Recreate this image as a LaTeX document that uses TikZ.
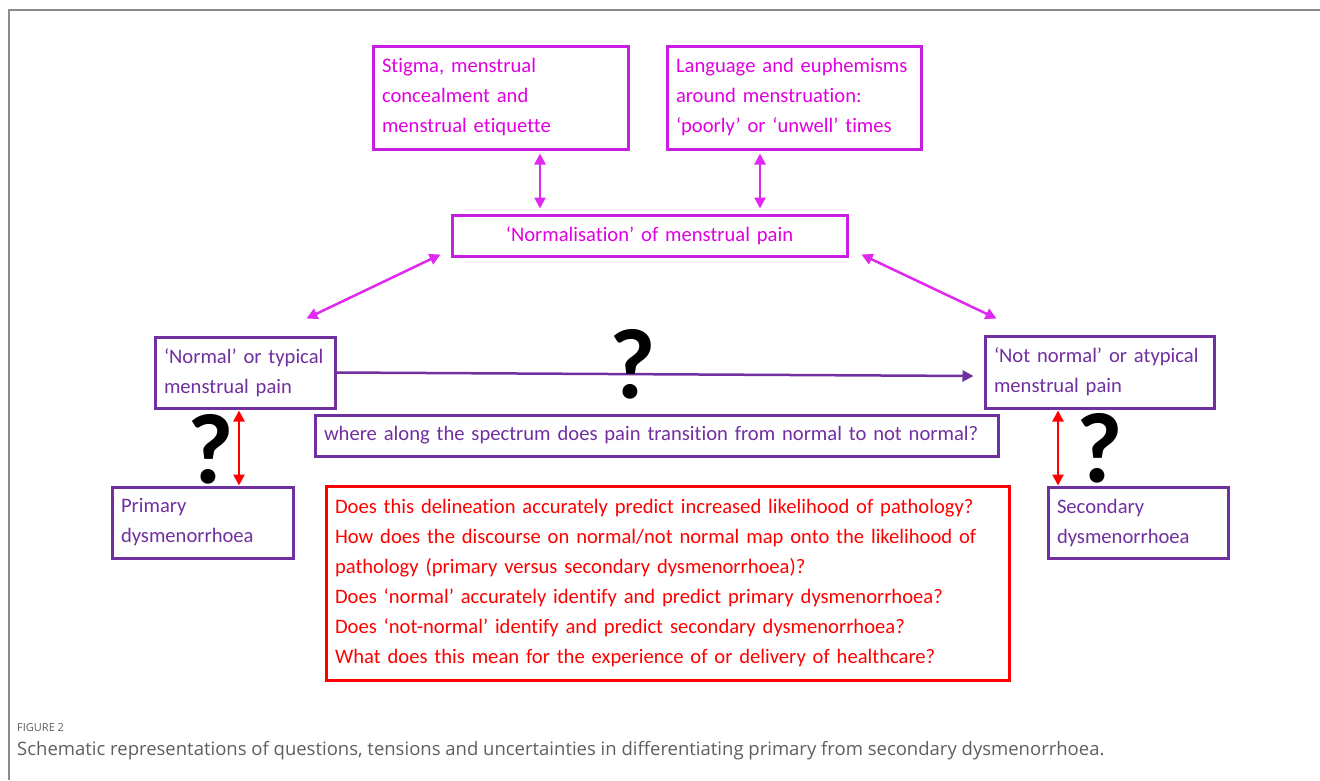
\documentclass[tikz,border=0pt]{standalone}
\usepackage{fontspec}
\setmainfont[Ligatures=NoCommon, WordSpace=0.75]{Carlito}
\newfontfamily\capfont{Open Sans}
\newfontfamily\qfont{Carlito}
\usetikzlibrary{arrows.meta,calc}
\definecolor{magB}{RGB}{200,30,225}
\definecolor{magT}{RGB}{225,0,225}
\definecolor{magA}{RGB}{225,40,240}
\definecolor{purp}{RGB}{112,48,160}
\definecolor{redc}{RGB}{255,0,0}
\definecolor{capgray}{RGB}{95,95,95}
\definecolor{framegray}{RGB}{140,140,140}
\tikzset{
  boxbase/.style={draw, line width=3pt, inner xsep=9pt, inner ysep=0pt, align=left,
    font=\fontsize{20.6}{30}\selectfont},
  magbox/.style={boxbase, draw=magB, text=magT},
  purbox/.style={boxbase, draw=purp, text=purp},
  redbox/.style={boxbase, draw=redc, text=redc},
  arrM/.style={draw=magA, line width=2.5pt, {Triangle[length=11pt,width=11pt]}-{Triangle[length=11pt,width=11pt]}},
  arrR/.style={draw=redc, line width=2.5pt, {Triangle[length=11pt,width=11pt]}-{Triangle[length=11pt,width=11pt]}},
  arrP/.style={draw=purp, line width=2.5pt, -{Triangle[length=11pt,width=11pt]}},
  qmark/.style={text=black, font=\qfont\bfseries\fontsize{100}{100}\selectfont, inner sep=0pt},
}
\begin{document}
\begin{tikzpicture}[x=1pt,y=-1pt]
\useasboundingbox (0,0) rectangle (1320,780);
\fill[white] (0,0) rectangle (1320,780);
% frame
\draw[framegray, line width=1.5pt] (9,780) -- (9,10) -- (1320,10);

% top boxes
\node[magbox, text width=237pt, minimum height=103pt] (stig) at (500.5,97.5)
  {\mbox{Stigma, menstrual}\\\mbox{concealment and}\\\mbox{menstrual etiquette}};
\node[magbox, text width=236pt, minimum height=103pt] (lang) at (794,97.5)
  {\mbox{Language and euphemisms}\\\mbox{around menstruation:}\\\mbox{‘poorly’ or ‘unwell’ times}};
\node[magbox, align=center, text width=377pt, minimum height=41pt] (norm) at (649.5,235.5)
  {‘Normalisation’ of menstrual pain};

% middle boxes
\node[purbox, text width=162pt, minimum height=71pt] (nrm) at (245,372.5)
  {\mbox{‘Normal’ or typical}\\\mbox{menstrual pain}};
\node[purbox, text width=211pt, minimum height=72pt] (notn) at (1099.5,372)
  {\mbox{‘Not normal’ or atypical}\\\mbox{menstrual pain}};
\node[purbox, text width=665pt, minimum height=41pt] (where) at (656.5,435.5)
  {\mbox{where along the spectrum does pain transition from normal to not normal?}};

% bottom boxes
\node[purbox, text width=163pt, minimum height=71pt] (prim) at (202.5,522.5)
  {Primary\\dysmenorrhoea};
\node[purbox, text width=162pt, minimum height=71pt] (sec) at (1138,522.5)
  {Secondary\\dysmenorrhoea};
\node[redbox, text width=665pt, minimum height=194pt] (ques) at (667.5,583)
  {\mbox{Does this delineation accurately predict increased likelihood of pathology?}\\
   \mbox{How does the discourse on normal/not normal map onto the likelihood of}\\
   \mbox{pathology (primary versus secondary dysmenorrhoea)?}\\
   \mbox{Does ‘normal’ accurately identify and predict primary dysmenorrhoea?}\\
   \mbox{Does ‘not-normal’ identify and predict secondary dysmenorrhoea?}\\
   \mbox{What does this mean for the experience of or delivery of healthcare?}};

% magenta arrows
\coordinate (xa) at (540,0);
\coordinate (xb) at (760,0);
\draw[arrM] ($(xa |- stig.south)+(0,3)$) -- ($(xa |- norm.north)+(0,-5)$);
\draw[arrM] ($(xb |- lang.south)+(0,3)$) -- ($(xb |- norm.north)+(0,-5)$);
\draw[arrM] ($(norm.south west)+(-10,-3)$) -- ($(nrm.north east)+(-30,-17)$);
\draw[arrM] ($(norm.south east)+(13,-3)$) -- ($(notn.north west)+(13,-16)$);

% purple spectrum arrow
\draw[arrP] (nrm.east) -- ($(notn.west)+(-10,4)$);

% red arrows
\coordinate (xc) at (239,0);
\coordinate (xd) at (1058,0);
\draw[arrR] ($(xc |- nrm.south)+(0,1)$) -- (xc |- prim.north);
\draw[arrR] ($(xd |- notn.south)+(0,1)$) -- (xd |- sec.north);

% question marks
\node[qmark] (q1) at (633,364.5) {?};
\node[qmark] (q2) at (211,449.5) {?};
\node[qmark] (q3) at (1100,448) {?};

% caption
\node[anchor=west, text=capgray, font=\capfont\fontsize{11}{13}\selectfont, inner sep=0pt] (figlab) at (17,728) {FIGURE 2};
\node[anchor=west, text=capgray, font=\capfont\fontsize{18.5}{20}\selectfont, inner sep=0pt] (cap) at (17,751)
  {Schematic representations of questions, tensions and uncertainties in differentiating primary from secondary dysmenorrhoea.};
\end{tikzpicture}
\end{document}
